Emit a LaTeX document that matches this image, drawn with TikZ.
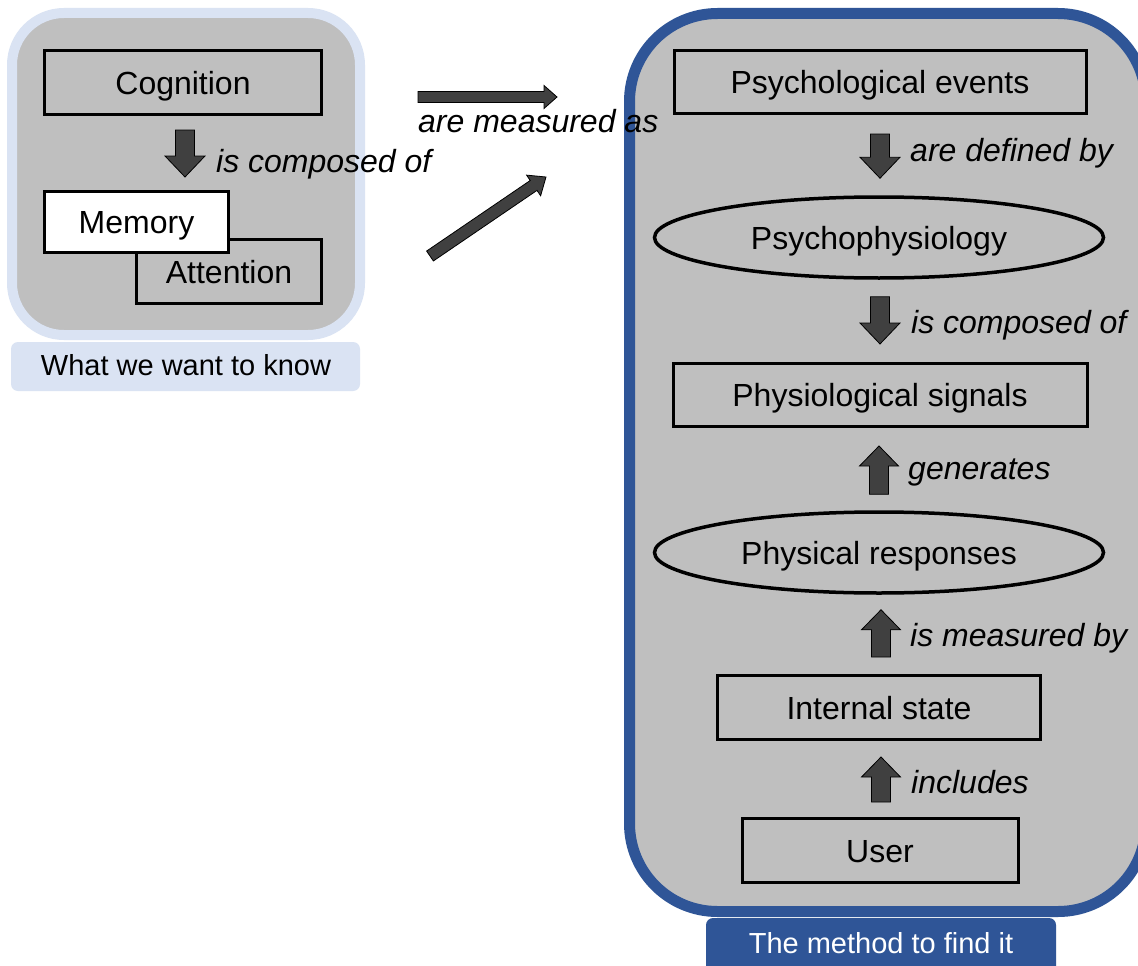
\documentclass[tikz,border=0pt]{standalone}
\usepackage{fontspec}
\setmainfont{Liberation Sans}
\usetikzlibrary{calc,shapes.geometric}

\definecolor{panelgray}{HTML}{BFBFBF}
\definecolor{lightframe}{HTML}{DAE3F3}
\definecolor{darkframe}{HTML}{2F5597}
\definecolor{arrowgray}{HTML}{404040}

% block arrow: #1 tail, #2 tip, #3 half shaft width, #4 half head width, #5 head length
\newcommand\blockarrow[5]{%
  \path ($(#2)!#5!(#1)$) coordinate (ba-base);
  \draw[blockarrowstyle]
    ($(#1)!#3!90:(#2)$) -- ($(ba-base)!#3!90:(#2)$) -- ($(ba-base)!#4!90:(#2)$)
    -- (#2)
    -- ($(ba-base)!#4!-90:(#2)$) -- ($(ba-base)!#3!-90:(#2)$) -- ($(#1)!#3!-90:(#2)$)
    -- cycle;
}

\tikzset{
  blockarrowstyle/.style={fill=arrowgray, draw=black, line width=0.8pt, line join=miter},
  boxtext/.style={font=\fontsize{32}{38}\selectfont, text height=23pt, text depth=0pt, inner sep=0pt},
  conceptbox/.style={boxtext, rectangle, draw=black, line width=3pt, fill=panelgray},
  conceptellipse/.style={boxtext, ellipse, draw=black, line width=3.5pt, fill=panelgray},
  relation/.style={font=\fontsize{32}{38}\selectfont\itshape, anchor=base west, inner sep=0pt},
  caption/.style={font=\fontsize{29}{35}\selectfont, anchor=base, inner sep=0pt},
}

\begin{document}
\begin{tikzpicture}[x=1pt,y=-1pt]
\clip (0,0) rectangle (1138,966);
\fill[white] (0,0) rectangle (1138,966);

% left panel: what we want to know
\draw[line width=10pt, draw=lightframe, fill=panelgray, rounded corners=52pt]
  (12,13) rectangle (360,335);
\fill[lightframe, rounded corners=7pt] (11,342) rectangle (360,391);
\node[caption] (wantlabel) at (186,375) {What we want to know};

\node[conceptbox, minimum width=277pt, minimum height=64pt] (cog) at (183,82.5) {Cognition};
\node[conceptbox, minimum width=185pt, minimum height=64pt] (att) at (229,271.5) {Attention};
\node[conceptbox, fill=white, minimum width=184pt, minimum height=61pt] (mem) at (136.5,222) {Memory};

% right panel: the method to find it
\draw[line width=11pt, draw=darkframe, fill=panelgray, rounded corners=88pt]
  (629.5,13.5) rectangle (1146,911.5);
\fill[darkframe, rounded corners=7pt] (706,918) rectangle (1056,980);
\node[caption, text=white] (methodlabel) at (881,953) {The method to find it};

\node[conceptbox, minimum width=412pt, minimum height=63pt] (pe) at (880,82) {Psychological events};
\node[conceptellipse, minimum width=449pt, minimum height=81pt] (pp) at (879,237.5) {Psychophysiology};
\node[conceptbox, minimum width=414pt, minimum height=63pt] (ps) at (880,395) {Physiological signals};
\node[conceptellipse, minimum width=449pt, minimum height=81pt] (pr) at (879,552.5) {Physical responses};
\node[conceptbox, minimum width=323pt, minimum height=64pt] (is) at (879,707.5) {Internal state};
\node[conceptbox, minimum width=276pt, minimum height=64pt] (us) at (880,850.5) {User};

% arrows between concepts
\path ($(cog.south)+(2,14)$) coordinate (c0a) ($(cog.south)+(2,61)$) coordinate (c0b);
\blockarrow{c0a}{c0b}{9.5pt}{20pt}{21pt}

\path ($(pe.south)+(0,19)$) coordinate (c1a) ($(pe.south |- pp.north)+(0,-17)$) coordinate (c1b);
\blockarrow{c1a}{c1b}{9.5pt}{20pt}{21pt}

\path ($(pp.south)+(1,17)$) coordinate (c2a) ($(pp.south |- ps.north)+(1,-18)$) coordinate (c2b);
\blockarrow{c2a}{c2b}{9.5pt}{20pt}{21pt}

\path ($(pr.north)+(0,-16)$) coordinate (c3a) ($(pr.north |- ps.south)+(0,18)$) coordinate (c3b);
\blockarrow{c3a}{c3b}{9.5pt}{19.5pt}{20pt}

\path ($(is.north)+(2,-17)$) coordinate (c4a) ($(is.north |- pr.south)+(2,15)$) coordinate (c4b);
\blockarrow{c4a}{c4b}{9.5pt}{19.5pt}{20pt}

\path ($(us.north)+(1,-15)$) coordinate (c5a) ($(us.north |- is.south)+(1,16)$) coordinate (c5b);
\blockarrow{c5a}{c5b}{9.5pt}{19.5pt}{20pt}

% arrows from the left panel to the right panel
\coordinate (h1) at (418,97);
\coordinate (h2) at (557,97);
\blockarrow{h1}{h2}{5.5pt}{11.5pt}{13pt}
\coordinate (d1) at (430,256);
\coordinate (d2) at (546,177);
\blockarrow{d1}{d2}{6pt}{12.5pt}{15pt}

% relation labels
\node[relation] (r0) at (216,172) {is composed of};
\node[relation] (rm) at (418,132) {are measured as};
\node[relation] (r1) at (910,161) {are defined by};
\node[relation] (r2) at (911,333) {is composed of};
\node[relation] (r3) at (908,479) {generates};
\node[relation] (r4) at (910,646) {is measured by};
\node[relation] (r5) at (911,793) {includes};
\end{tikzpicture}
\end{document}
